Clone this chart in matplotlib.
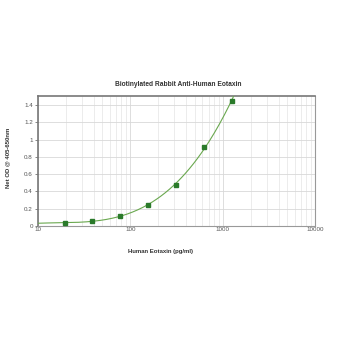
import numpy as np
import matplotlib
matplotlib.use('Agg')
from matplotlib import pyplot as plt
from matplotlib.ticker import LogLocator, FixedLocator, NullFormatter

plt.rcParams['font.family'] = ['Liberation Sans', 'DejaVu Sans']

# Standard curve readings
conc = [19.5, 39, 78, 156, 312, 625, 1250]
od = [0.035, 0.062, 0.12, 0.247, 0.47, 0.92, 1.446]
y_ticks = [0, 0.2, 0.4, 0.6, 0.8, 1, 1.2, 1.4]
y_tick_labels = ['0', '0.2', '0.4', '0.6', '0.8', '1', '1.2', '1.4']
x_ticks = [10, 100, 1000, 10000]
x_tick_labels = ['10', '100', '1000', '10000']

# Smooth curve through the points (cubic fit in log space)
coef = np.polyfit(np.log10(conc), od, 3)
xs = np.logspace(1, np.log10(1400), 200)
ys = np.polyval(coef, np.log10(xs))

fig = plt.figure(figsize=(3.5, 3.5), dpi=100)
ax = fig.add_axes([0.108, 0.354, 0.793, 0.372])

ax.plot(xs, ys, color='#6aa84f', lw=0.8, zorder=3)
ax.plot(conc, od, 's', color='#2a7a2a', ms=3, zorder=4)

ax.set_xscale('log')
ax.set_xlim(10, 10000)
ax.set_ylim(0, 1.505)
ax.xaxis.set_major_locator(FixedLocator(x_ticks))
ax.set_xticklabels(x_tick_labels)
ax.xaxis.set_minor_locator(LogLocator(base=10, subs=np.arange(2, 10)))
ax.xaxis.set_minor_formatter(NullFormatter())
ax.set_yticks(y_ticks)
ax.set_yticklabels(y_tick_labels)

ax.grid(True, which='major', color='#d8d8d8', lw=0.6)
ax.grid(True, which='minor', axis='x', color='#e4e4e4', lw=0.5)
ax.set_axisbelow(True)

ax.tick_params(axis='both', which='major', labelsize=4.5, colors='#555555',
               length=2, width=0.5, pad=1.5)
ax.tick_params(axis='x', which='minor', length=0)
ax.tick_params(axis='x', which='major', length=0, pad=1)

for side in ['left', 'top']:
    ax.spines[side].set_color('#777777')
    ax.spines[side].set_linewidth(1.2)
for side in ['right', 'bottom']:
    ax.spines[side].set_color('#999999')
    ax.spines[side].set_linewidth(0.8)

fig.text(0.51, 0.76, 'Biotinylated Rabbit Anti-Human Eotaxin', ha='center',
         va='center', fontsize=4.8, fontweight='bold', color='#333333')
fig.text(0.46, 0.28, 'Human Eotaxin (pg/ml)', ha='center', va='center',
         fontsize=4.3, fontweight='bold', color='#333333')
fig.text(0.022, 0.55, 'Net OD @ 405-650nm', ha='center', va='center',
         rotation=90, fontsize=4.3, fontweight='bold', color='#333333')

fig.savefig('out.png', dpi=100, facecolor='white')
